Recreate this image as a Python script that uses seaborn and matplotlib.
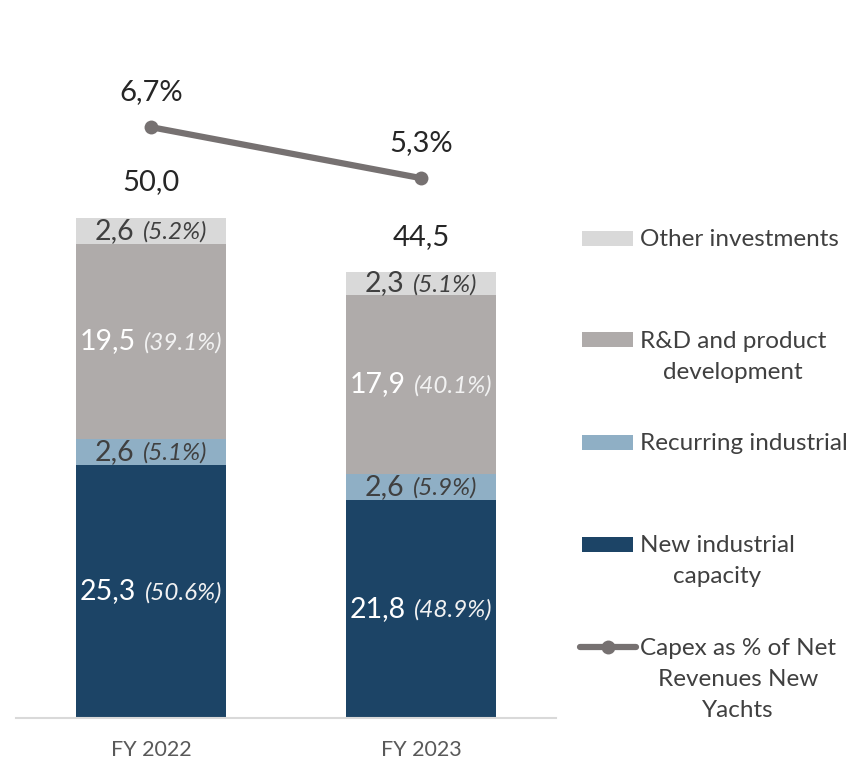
import numpy as np
import pandas as pd
import matplotlib
matplotlib.use("Agg")
import matplotlib.pyplot as plt
import seaborn as sns
from matplotlib.offsetbox import TextArea, HPacker, AnnotationBbox
from matplotlib.patches import Rectangle
from matplotlib.lines import Line2D

# Data
years = ["FY 2022", "FY 2023"]
segments = ["New industrial capacity", "Recurring industrial",
            "R&D and product development", "Other investments"]
new_capacity = [25.3, 21.8]
recurring = [2.6, 2.6]
rnd = [19.5, 17.9]
other = [2.6, 2.3]
shares = {
    "New industrial capacity": ["50.6%", "48.9%"],
    "Recurring industrial": ["5.1%", "5.9%"],
    "R&D and product development": ["39.1%", "40.1%"],
    "Other investments": ["5.2%", "5.1%"],
}
totals = [50.0, 44.5]
capex_pct = [6.7, 5.3]

legend_labels = ["Other investments", "R&D and product\ndevelopment",
                 "Recurring industrial", "New industrial\ncapacity",
                 "Capex as % of Net\nRevenues New\nYachts"]

colors = {
    "New industrial capacity": "#1c4466",
    "Recurring industrial": "#8fafc5",
    "R&D and product development": "#afabaa",
    "Other investments": "#d9d9d9",
}
label_colors = {
    "New industrial capacity": ("white", "#f2f2f2"),
    "Recurring industrial": ("#404040", "#404040"),
    "R&D and product development": ("white", "#f2f2f2"),
    "Other investments": ("#404040", "#404040"),
}
line_color = "#767171"

sns.set_theme(style="white")
plt.rcParams["font.family"] = ["Lato", "DejaVu Sans"]

df = pd.DataFrame({"year": years,
                   "New industrial capacity": new_capacity,
                   "Recurring industrial": recurring,
                   "R&D and product development": rnd,
                   "Other investments": other})
cum = df[segments].cumsum(axis=1)
bottoms = cum.shift(1, axis=1).fillna(0)

fig = plt.figure(figsize=(8.48, 7.64), dpi=100)
ax = fig.add_axes([16 / 848, 46 / 764, 540 / 848, 718 / 764])

# stacked bars: draw cumulative heights from tallest down
for seg in reversed(segments):
    sns.barplot(x=df["year"], y=cum[seg], color=colors[seg], width=0.556,
                linewidth=0, saturation=1, ax=ax, order=years)

ax.set_xlim(-0.5, 1.5)
ax.set_ylim(0, 71.8)
ax.set_ylabel("")
ax.set_xlabel("")
ax.set_yticks([])
for s in ["top", "left", "right"]:
    ax.spines[s].set_visible(False)
ax.spines["bottom"].set_color("#d9d9d9")
ax.spines["bottom"].set_linewidth(1.5)
ax.tick_params(axis="x", length=0, pad=16, labelsize=15.5, labelcolor="#595959")

# segment labels
for i in range(len(years)):
    for seg in segments:
        val = df.loc[i, seg]
        mid = bottoms.loc[i, seg] + val / 2
        c1, c2 = label_colors[seg]
        num = TextArea(f"{val:.1f}".replace(".", ","),
                       textprops=dict(color=c1, fontsize=20.5))
        pct = TextArea(f"({shares[seg][i]})",
                       textprops=dict(color=c2, fontsize=17.5, style="italic"))
        box = HPacker(children=[num, pct], align="baseline", pad=0, sep=6)
        ab = AnnotationBbox(box, (i, mid), frameon=False, box_alignment=(0.5, 0.5))
        ax.add_artist(ab)
    ax.annotate(f"{totals[i]:.1f}".replace(".", ","), (i, totals[i]),
                xytext=(0, 26), textcoords="offset points", ha="center",
                va="center", fontsize=21, color="#262626")

# capex % line on a secondary axis
ax2 = ax.twinx()
xs = np.arange(len(years))
sns.lineplot(x=xs, y=capex_pct, color=line_color, linewidth=4.5, marker="o",
             markersize=10, markeredgewidth=0, ax=ax2)
ax2.set_ylim(-9.52, 10.19)
ax2.set_yticks([])
for s in ax2.spines.values():
    s.set_visible(False)
for x, v in zip(xs, capex_pct):
    ax2.annotate(f"{v:.1f}%".replace(".", ","), (x, v), xytext=(0, 25),
                 textcoords="offset points", ha="center", va="center",
                 fontsize=21, color="#262626")

# legend drawn manually
entry_y = [238, 340, 442, 544, 647]
leg_colors = [colors["Other investments"], colors["R&D and product development"],
              colors["Recurring industrial"], colors["New industrial capacity"], None]
W, H = 848, 764
for lab, y, c in zip(legend_labels, entry_y, leg_colors):
    if c is not None:
        fig.patches.append(Rectangle((582 / W, 1 - (y + 7.5) / H), 51 / W, 15 / H,
                                     transform=fig.transFigure, color=c, lw=0))
    else:
        fig.lines.append(Line2D([580 / W, 636 / W], [1 - y / H, 1 - y / H],
                                transform=fig.transFigure, color=line_color, lw=4.5))
        fig.lines.append(Line2D([608 / W], [1 - y / H], transform=fig.transFigure,
                                color=line_color, marker="o", markersize=10,
                                markeredgewidth=0))
    fig.text(640 / W, 1 - (y - 9) / H, lab, ha="left", va="top",
             multialignment="center", fontsize=17.5, color="#404040",
             linespacing=1.6)

plt.savefig("out.png", dpi=100)
